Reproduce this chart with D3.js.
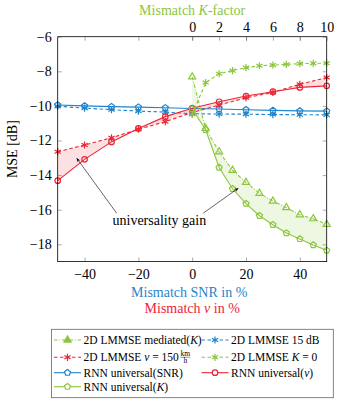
<!DOCTYPE html>
<html>
<head>
<meta charset="utf-8">
<script src="https://cdn.jsdelivr.net/npm/d3@7"></script>
<style>
body { margin: 0; background: #fff; }
</style>
</head>
<body>
<svg id="chart" width="339" height="399"></svg>
<script>
// data
var mismatchPct = [-50, -40, -30, -20, -10, 0, 10, 20, 30, 40, 50];
var rnnSnr   = [-9.95, -10.0, -10.04, -10.07, -10.11, -10.15, -10.18, -10.22, -10.26, -10.29, -10.3];
var lmmse15  = [-10.02, -10.13, -10.22, -10.3, -10.36, -10.45, -10.47, -10.48, -10.5, -10.51, -10.52];
var rnnV     = [-14.32, -13.09, -12.08, -11.3, -10.62, -10.14, -9.76, -9.43, -9.18, -8.93, -8.84];
var lmmseV   = [-12.65, -12.26, -11.84, -11.35, -10.91, -10.38, -9.95, -9.53, -9.22, -8.75, -8.36];

var kFactor   = [0, 1, 2, 3, 4, 5, 6, 7, 8, 9, 10];
var lmmseMed  = [-8.32, -11.3, -12.65, -13.72, -14.42, -15.05, -15.5, -15.88, -16.29, -16.52, -16.85];
var rnnK      = [-10.18, -11.38, -13.56, -14.79, -15.65, -16.35, -16.87, -17.35, -17.69, -18.04, -18.35];
var lmmseK0   = [-10.5, -8.65, -8.14, -7.96, -7.79, -7.68, -7.64, -7.6, -7.56, -7.54, -7.53];

var yTicks = [-6, -8, -10, -12, -14, -16, -18];
var xTicks = [-40, -20, 0, 20, 40];
var kTicks = [0, 2, 4, 6, 8, 10];

var BLUE = "#1f84cc";
var RED = "#ec2535";
var GREEN = "#8cc63f";
var FONT = "'Liberation Serif'";

var svg = d3.select("#chart");

var L = 57.7, R = 326.7, T = 36.7, B = 261.6;
var x = d3.scaleLinear().domain([-50, 50]).range([L, R]);
var xK = d3.scaleLinear().domain([0, 10]).range([x(0), R]);
var y = d3.scaleLinear().domain([-19, -6]).range([B, T]);

// arrowhead
svg.append("defs").append("marker")
	.attr("id", "arr")
	.attr("viewBox", "0 0 10 10")
	.attr("refX", 9).attr("refY", 5)
	.attr("markerWidth", 7).attr("markerHeight", 7)
	.attr("orient", "auto")
	.append("path")
	.attr("d", "M0,1 L10,5 L0,9 L3,5 Z")
	.attr("fill", "#000");

var plot = svg.append("g");

// fills between curves
function band(xs, sc, a, b) {
	return d3.area()
		.x(function(d, i){ return sc(xs[i]); })
		.y0(function(d, i){ return y(a[i]); })
		.y1(function(d, i){ return y(b[i]); })(xs);
}
plot.append("path").attr("d", band(mismatchPct, x, rnnV, lmmseV))
	.attr("fill", RED).attr("fill-opacity", 0.14);
plot.append("path").attr("d", band(kFactor, xK, rnnK, lmmseMed))
	.attr("fill", GREEN).attr("fill-opacity", 0.15);

var pentagon = {
	draw: function(ctx, size) {
		var r = Math.sqrt(size / 2.38);
		for (var i = 0; i < 5; i++) {
			var a = -Math.PI / 2 + i * 2 * Math.PI / 5;
			if (i == 0) ctx.moveTo(r * Math.cos(a), r * Math.sin(a));
			else ctx.lineTo(r * Math.cos(a), r * Math.sin(a));
		}
		ctx.closePath();
	}
};

var series = [
	{xs: mismatchPct, sc: x, ys: lmmse15, color: BLUE, dash: "3.5,2.5", sym: d3.symbolAsterisk, size: 36, legFill: true},
	{xs: mismatchPct, sc: x, ys: rnnSnr, color: BLUE, dash: null, sym: pentagon, size: 24},
	{xs: mismatchPct, sc: x, ys: lmmseV, color: RED, dash: "3.5,2.5", sym: d3.symbolAsterisk, size: 36, legFill: true},
	{xs: mismatchPct, sc: x, ys: rnnV, color: RED, dash: null, sym: d3.symbolCircle, size: 24},
	{xs: kFactor, sc: xK, ys: lmmseK0, color: GREEN, dash: "3.5,2.5", sym: d3.symbolAsterisk, size: 36, legFill: true},
	{xs: kFactor, sc: xK, ys: lmmseMed, color: GREEN, dash: "3.5,1.8,0.8,1.8", sym: d3.symbolTriangle, size: 22, legFill: true},
	{xs: kFactor, sc: xK, ys: rnnK, color: GREEN, dash: null, sym: pentagon, size: 24}
];

series.forEach(function(s) {
	var line = d3.line()
		.x(function(d, i){ return s.sc(s.xs[i]); })
		.y(function(d){ return y(d); });
	plot.append("path")
		.attr("d", line(s.ys))
		.attr("fill", "none")
		.attr("stroke", s.color)
		.attr("stroke-width", 1.1)
		.attr("stroke-dasharray", s.dash);
	plot.selectAll(null).data(s.ys).enter().append("path")
		.attr("transform", function(d, i){ return "translate(" + s.sc(s.xs[i]) + "," + y(d) + ")"; })
		.attr("d", d3.symbol().type(s.sym).size(s.size))
		.attr("fill", "none")
		.attr("stroke", s.color)
		.attr("stroke-width", 1.2);
});

// frame
svg.append("rect")
	.attr("x", L).attr("y", T).attr("width", R - L).attr("height", B - T)
	.attr("fill", "none").attr("stroke", "#000").attr("stroke-width", 0.8);

// axes, ticks pointing inward
function styleAxis(g) {
	g.attr("font-family", null).attr("font-size", null);
	g.select(".domain").remove();
	g.selectAll(".tick line").attr("stroke", "#555").attr("stroke-width", 0.5);
	g.selectAll("text").attr("font-size", 14).attr("fill", "#000");
}
svg.append("g").attr("transform", "translate(" + L + ",0)")
	.call(d3.axisLeft(y).tickValues(yTicks).tickSize(-4).tickPadding(6).tickFormat(d3.format("d")))
	.call(styleAxis);
svg.append("g").attr("transform", "translate(" + R + ",0)")
	.call(d3.axisRight(y).tickValues(yTicks).tickSize(-4).tickFormat(""))
	.call(styleAxis);
svg.append("g").attr("transform", "translate(0," + B + ")")
	.call(d3.axisBottom(x).tickValues(xTicks).tickSize(-4).tickPadding(7).tickFormat(d3.format("d")))
	.call(styleAxis);
svg.append("g").attr("transform", "translate(0," + T + ")")
	.call(d3.axisTop(x).tickValues(xTicks).tickSize(-4).tickFormat(""))
	.call(styleAxis);
svg.append("g").attr("transform", "translate(0," + T + ")")
	.call(d3.axisTop(xK).tickValues(kTicks).tickSize(-4).tickPadding(5).tickFormat(d3.format("d")))
	.call(styleAxis);

// axis titles
svg.append("text")
	.attr("transform", "translate(16.5," + ((T + B) / 2) + ") rotate(-90)")
	.attr("text-anchor", "middle").attr("font-size", 14)
	.text("MSE [dB]");

var topT = svg.append("text").attr("x", x(0)).attr("y", 15)
	.attr("text-anchor", "middle").attr("font-size", 14).attr("fill", GREEN);
topT.append("tspan").text("Mismatch ");
topT.append("tspan").attr("font-style", "italic").text("K");
topT.append("tspan").text("-factor");

svg.append("text").attr("x", x(0) - 3).attr("y", 296.5)
	.attr("text-anchor", "middle").attr("font-size", 14).attr("fill", BLUE)
	.text("Mismatch SNR in %");
var vT = svg.append("text").attr("x", x(0)).attr("y", 313)
	.attr("text-anchor", "middle").attr("font-size", 14).attr("fill", RED);
vT.append("tspan").text("Mismatch ");
vT.append("tspan").attr("font-style", "italic").text("v");
vT.append("tspan").text(" in %");

// universality gain annotation
var annot = svg.append("g");
annot.append("line")
	.attr("x1", x(-28.1)).attr("y1", y(-16.2))
	.attr("x2", x(-42.9)).attr("y2", y(-13.03))
	.attr("stroke", "#000").attr("stroke-width", 0.6).attr("marker-end", "url(#arr)");
annot.append("line")
	.attr("x1", x(4.1)).attr("y1", y(-16.2))
	.attr("x2", x(17.1)).attr("y2", y(-14.76))
	.attr("stroke", "#000").attr("stroke-width", 0.6).attr("marker-end", "url(#arr)");
annot.append("text").attr("x", x(-12.2)).attr("y", y(-16.64) + 4.5)
	.attr("text-anchor", "middle").attr("font-size", 14)
	.text("universality gain");

// legend
var legend = svg.append("g");
legend.append("rect")
	.attr("x", 51.5).attr("y", 329.3).attr("width", 281.8).attr("height", 68.4)
	.attr("fill", "#fff").attr("stroke", "#666").attr("stroke-width", 0.8);

var legendItems = [
	{s: series[5], col: 0, row: 340, label: [["2D LMMSE mediated("], ["K", 1], [")"]]},
	{s: series[0], col: 1, row: 340, label: [["2D LMMSE 15 dB"]]},
	{s: series[2], col: 0, row: 357.3, label: [["2D LMMSE "], ["v", 1], [" = 150"]], frac: true},
	{s: series[4], col: 1, row: 357.3, label: [["2D LMMSE "], ["K", 1], [" = 0"]]},
	{s: series[1], col: 0, row: 372.7, label: [["RNN universal(SNR)"]]},
	{s: series[3], col: 1, row: 372.7, label: [["RNN universal("], ["v", 1], [")"]]},
	{s: series[6], col: 0, row: 386.7, label: [["RNN universal("], ["K", 1], [")"]]}
];
var colX = [54, 201.5];

svg.selectAll("text").style("font-family", FONT);

legendItems.forEach(function(it) {
	var x0 = colX[it.col];
	legend.append("line")
		.attr("x1", x0).attr("x2", x0 + 27).attr("y1", it.row).attr("y2", it.row)
		.attr("stroke", it.s.color).attr("stroke-width", 1.1)
		.attr("stroke-dasharray", it.s.dash);
	legend.append("path")
		.attr("transform", "translate(" + (x0 + 13.5) + "," + it.row + ")")
		.attr("d", d3.symbol().type(it.s.sym).size(it.s.size))
		.attr("fill", it.s.legFill ? it.s.color : "#fff")
		.attr("stroke", it.s.color).attr("stroke-width", 1.2);
	var t = legend.append("text").attr("x", x0 + 29.5).attr("y", it.row + 3.8)
		.attr("font-size", 11.5).style("font-family", FONT);
	it.label.forEach(function(p) {
		t.append("tspan").attr("font-style", p[1] ? "italic" : null).text(p[0]);
	});
	if (it.frac) {
		var fx = x0 + 29.5 + t.node().getComputedTextLength() + 1.5;
		legend.append("text").attr("x", fx + 5).attr("y", it.row - 1.5)
			.attr("text-anchor", "middle").attr("font-size", 7.5).style("font-family", FONT).text("km");
		legend.append("line").attr("x1", fx).attr("x2", fx + 10)
			.attr("y1", it.row).attr("y2", it.row)
			.attr("stroke", "#000").attr("stroke-width", 0.4);
		legend.append("text").attr("x", fx + 5).attr("y", it.row + 6)
			.attr("text-anchor", "middle").attr("font-size", 7.5).style("font-family", FONT).text("h");
	}
});
</script>
</body>
</html>
